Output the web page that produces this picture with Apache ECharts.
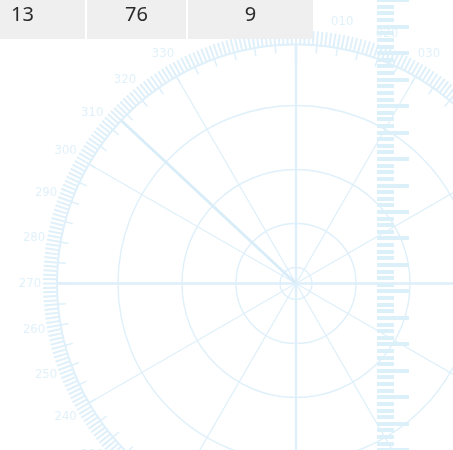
<!DOCTYPE html>
<html><head><meta charset="utf-8">
<script src="https://cdn.jsdelivr.net/npm/echarts@6/dist/echarts.min.js"></script>
<style>html,body{margin:0;padding:0;background:#fff}#c{width:453px;height:450px}</style>
</head><body><div id="c"></div>
<script>
// ---- data ----
const cellValues = [13, 76, 9];
const bearingMin = 0, bearingMax = 360;
const labelBearings = [0, 10, 20, 30, 40, 50, 60, 70, 80, 90, 100, 110, 120, 130, 140, 150, 160, 170,
  180, 190, 200, 210, 220, 230, 240, 250, 260, 270, 280, 290, 300, 310, 320, 330, 340, 350];
const labelStep = 10;
const hatchPerLabel = 10;
const innerTickStep = 5;
const spokeStep = 30;
const cardinalStep = 90;
const needleBearings = [313];
const rulerMin = 0, rulerMax = 170, rulerStep = 10, rulerMinorSplit = 4;

// ---- layout / style ----
const CX = 296, CY = 283.5, R = 239, LABEL_R = 266;
const ringRadii = [16, 60, 114, 178];
const LINE = '#dff0fa';
const LABEL = '#d9eef9';
const RULER = '#dcf0fa';
const cellBoxes = [{x: -40, w: 125}, {x: 87, w: 99}, {x: 188, w: 125}];

const hidden = {axisLine: {show: false}, axisTick: {show: false}, axisLabel: {show: false}, splitLine: {show: false}};
function angleBase(extra) {
  return Object.assign({type: 'value', min: bearingMin, max: bearingMax, startAngle: 90, clockwise: true}, hidden, extra);
}
const polars = [], angleAxes = [], radiusAxes = [];
function addPolar(radius, angleExtra) {
  const idx = polars.length;
  polars.push({center: [CX, CY], radius: radius});
  angleAxes.push(Object.assign(angleBase(angleExtra), {polarIndex: idx}));
  radiusAxes.push(Object.assign({type: 'value', min: 0, max: 1, polarIndex: idx}, hidden));
  return idx;
}
// main ring: line, outward hatch (1 deg)
const mainIdx = addPolar(R, {
  interval: labelStep,
  axisLine: {show: true, lineStyle: {color: LINE, width: 2}},
  axisTick: {show: true, inside: false, length: 14, lineStyle: {color: LINE, width: 2}},
  minorTick: {show: true, splitNumber: hatchPerLabel, length: 14, lineStyle: {color: LINE, width: 2}}
});
// inward ticks every 5 deg
addPolar(R, {interval: innerTickStep, axisTick: {show: true, inside: true, length: 8, lineStyle: {color: LINE, width: 1.5}}});
// spokes every 30 deg
addPolar(R, {interval: spokeStep, splitLine: {show: true, lineStyle: {color: LINE, width: 1.3}}});
// cardinal spokes
addPolar(R, {interval: cardinalStep, splitLine: {show: true, lineStyle: {color: LINE, width: 2.4}},
  axisTick: {show: true, inside: true, length: 19, lineStyle: {color: LINE, width: 2.4}}});
// concentric rings
ringRadii.forEach(r => addPolar(r, {axisLine: {show: true, lineStyle: {color: LINE, width: 1.4}}}));
// label circle
const labelIdx = addPolar(LABEL_R, {});

const series = needleBearings.map(b => ({
  type: 'line', coordinateSystem: 'polar', polarIndex: mainIdx,
  data: [[0, b], [1, b]], symbol: 'none', silent: true,
  lineStyle: {color: '#d9edf8', width: 3}
}));
// bearing labels, centred on a circle outside the ring
series.push({
  type: 'scatter', coordinateSystem: 'polar', polarIndex: labelIdx, silent: true,
  symbolSize: 0, clip: false,
  data: labelBearings.map(b => [1, b]),
  label: {show: true, position: 'inside', color: LABEL,
    fontFamily: '"DejaVu Sans Condensed", sans-serif', fontSize: 13,
    formatter: p => String(p.value[1]).padStart(3, '0')}
});

const graphics = [];
cellValues.forEach((v, i) => {
  graphics.push({type: 'rect', zlevel: 2, z: 100, shape: {x: cellBoxes[i].x, y: -10, width: cellBoxes[i].w, height: 49}, style: {fill: '#efefef'}});
  graphics.push({type: 'text', zlevel: 2, z: 101, x: cellBoxes[i].x + cellBoxes[i].w / 2, y: 15,
    style: {text: String(v), fill: '#2a2a2a', font: '20px "Noto Sans"', textAlign: 'center', textVerticalAlign: 'middle'}});
});

const chart = echarts.init(document.getElementById('c'));
chart.setOption({
  animation: false,
  backgroundColor: '#fff',
  polar: polars,
  angleAxis: angleAxes,
  radiusAxis: radiusAxes,
  grid: {left: 377, top: -1.3, width: 40, height: 457.3, containLabel: false},
  xAxis: {type: 'value', min: 0, max: 1, show: false},
  yAxis: {type: 'value', min: rulerMin, max: rulerMax, interval: rulerStep, position: 'left', z: 5,
    axisLine: {show: false}, axisLabel: {show: false}, splitLine: {show: false},
    axisTick: {show: true, inside: true, length: 32, lineStyle: {color: RULER, width: 4}},
    minorTick: {show: true, splitNumber: rulerMinorSplit, length: 17, lineStyle: {color: RULER, width: 4}}},
  graphic: graphics,
  series: series
});
</script></body></html>
